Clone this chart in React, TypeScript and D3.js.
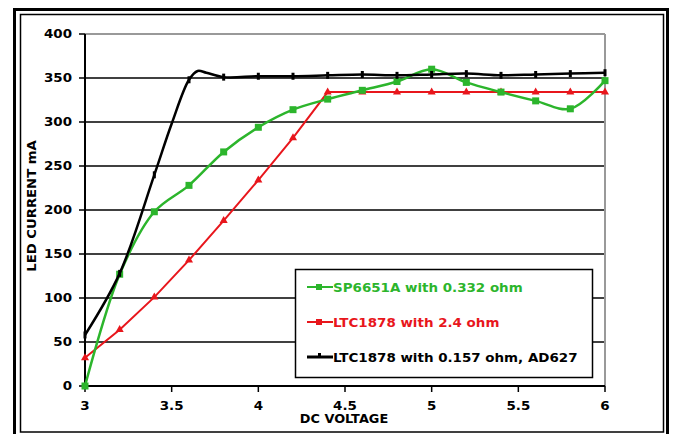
import React from "react";
import * as d3 from "d3";

const greenV = [3.0, 3.2, 3.4, 3.6, 3.8, 4.0, 4.2, 4.4, 4.6, 4.8, 5.0, 5.2, 5.4, 5.6, 5.8, 6.0];
const greenI = [0, 127, 198, 228, 266, 294, 314, 326, 336, 346, 360, 345, 334, 324, 315, 347];

const redV = [3.0, 3.2, 3.4, 3.6, 3.8, 4.0, 4.2, 4.4, 4.6, 4.8, 5.0, 5.2, 5.4, 5.6, 5.8, 6.0];
const redI = [32, 64, 101, 143, 188, 234, 282, 334, 334, 334, 334, 334, 334, 334, 334, 334];

const blackV = [3.0, 3.2, 3.4, 3.5, 3.6, 3.65, 3.7, 3.8, 4.0, 4.2, 4.4, 4.6, 4.8, 5.0, 5.2, 5.4, 5.6, 5.8, 6.0];
const blackI = [58, 128, 240, 298, 348, 358, 356, 351, 352, 352, 353, 354, 353, 354, 355, 353, 354, 355, 356];

const yTicks = [0, 50, 100, 150, 200, 250, 300, 350, 400];
const xTicks = [3, 3.5, 4, 4.5, 5, 5.5, 6];

const legendLabels = [
  "SP6651A with 0.332 ohm",
  "LTC1878 with 2.4 ohm",
  "LTC1878 with 0.157 ohm, AD627",
];

const GREEN = "#2cb52c";
const RED = "#e8161c";
const BLACK = "#000000";
const FONT = "'DejaVu Sans', Verdana, sans-serif";

export default function App() {
  const W = 675, H = 434;
  const x = d3.scaleLinear().domain([3, 6]).range([85, 605]);
  const y = d3.scaleLinear().domain([0, 400]).range([386, 34]);

  const mk = (vs: number[], is: number[]) => vs.map((v, i) => [v, is[i]] as [number, number]);
  const green = mk(greenV, greenI);
  const red = mk(redV, redI);
  const black = mk(blackV, blackI);

  const smooth = d3.line<[number, number]>().x(d => x(d[0])).y(d => y(d[1])).curve(d3.curveCatmullRom.alpha(0.5));
  const straight = d3.line<[number, number]>().x(d => x(d[0])).y(d => y(d[1]));
  const isMarked = (v: number) => Math.abs(v * 5 - Math.round(v * 5)) < 1e-6;
  const tri = d3.symbol().type(d3.symbolTriangle).size(28)() as string;

  const sx = 1.17;
  const T = (props: any) => {
    const { x: tx, y: ty, children, anchor = "start", fill = "#000", rot = 0, scale = sx } = props;
    return (
      <text
        transform={`translate(${tx},${ty}) rotate(${rot}) scale(${scale},1)`}
        textAnchor={anchor}
        fontFamily={FONT}
        fontWeight="bold"
        fontSize={11.5}
        fill={fill}
      >
        {children}
      </text>
    );
  };

  const legendY = [287, 322, 357];
  const legendColors = [GREEN, RED, BLACK];

  return (
    <svg width={W} height={H} style={{ position: "absolute", left: 0, top: 0, background: "#fff" }}>
      <rect x={0} y={0} width={W} height={H} fill="#fff" />
      {/* frame */}
      <rect x={14.5} y={9.5} width={653} height={440} fill="none" stroke="#000" strokeWidth={3} />
      <rect x={20.5} y={14.5} width={643} height={417.5} fill="none" stroke="#000" strokeWidth={1.5} />

      {/* gridlines */}
      {yTicks.filter(t => t > 0 && t < 400).map(t => (
        <line key={t} x1={x(3)} x2={x(6)} y1={y(t)} y2={y(t)} stroke="#000" strokeWidth={1.5} />
      ))}
      {/* plot border top/right */}
      <line x1={x(3)} x2={x(6)} y1={y(400)} y2={y(400)} stroke="#999" strokeWidth={2} />
      <line x1={x(6)} x2={x(6)} y1={y(400)} y2={y(0)} stroke="#999" strokeWidth={2} />

      {/* axes */}
      <line x1={x(3)} x2={x(3)} y1={y(400)} y2={y(0)} stroke="#000" strokeWidth={2} />
      <line x1={x(3)} x2={x(6)} y1={y(0)} y2={y(0)} stroke="#000" strokeWidth={2} />
      {yTicks.map(t => (
        <g key={t}>
          <line x1={x(3) - 6} x2={x(3)} y1={y(t)} y2={y(t)} stroke="#000" strokeWidth={1.5} />
          <T x={72} y={y(t) + 4.2} anchor="end">{String(t)}</T>
        </g>
      ))}
      {xTicks.map(t => (
        <g key={t}>
          <line x1={x(t)} x2={x(t)} y1={y(0)} y2={y(0) + 6} stroke="#000" strokeWidth={1.5} />
          <T x={x(t)} y={410} anchor="middle">{String(t)}</T>
        </g>
      ))}
      <T x={344} y={423} anchor="middle" scale={1.12}>DC VOLTAGE</T>
      <T x={36} y={206} anchor="middle" rot={-90} scale={1.15}>LED CURRENT mA</T>

      {/* series */}
      <path d={straight(red) as string} fill="none" stroke={RED} strokeWidth={2} />
      {red.filter(d => isMarked(d[0])).map((d, i) => (
        <path key={i} d={tri} transform={`translate(${x(d[0])},${y(d[1])})`} fill={RED} />
      ))}
      <path d={smooth(green) as string} fill="none" stroke={GREEN} strokeWidth={2.5} />
      {green.filter(d => isMarked(d[0])).map((d, i) => (
        <rect key={i} x={x(d[0]) - 3.5} y={y(d[1]) - 3.5} width={7} height={7} fill={GREEN} />
      ))}
      <path d={smooth(black) as string} fill="none" stroke={BLACK} strokeWidth={2.5} />
      {black.filter(d => isMarked(d[0])).map((d, i) => (
        <rect key={i} x={x(d[0]) - 1.5} y={y(d[1]) - 3.5} width={3} height={7} fill={BLACK} />
      ))}

      {/* legend */}
      <rect x={295.5} y={269.5} width={297} height={108} fill="#fff" stroke="#000" strokeWidth={1.5} />
      {legendLabels.map((lab, i) => (
        <g key={lab}>
          <line x1={307} x2={333} y1={legendY[i]} y2={legendY[i]} stroke={legendColors[i]} strokeWidth={i === 2 ? 3 : 2} />
          {i === 0 && <rect x={316} y={legendY[i] - 3} width={6} height={6} fill={GREEN} />}
          {i === 1 && <rect x={316} y={legendY[i] - 3} width={6} height={6} fill={RED} />}
          {i === 2 && <rect x={318} y={legendY[i] - 4} width={3} height={5} fill={BLACK} />}
          <T x={333} y={legendY[i] + 4.5} fill={legendColors[i]}>{lab}</T>
        </g>
      ))}
    </svg>
  );
}
